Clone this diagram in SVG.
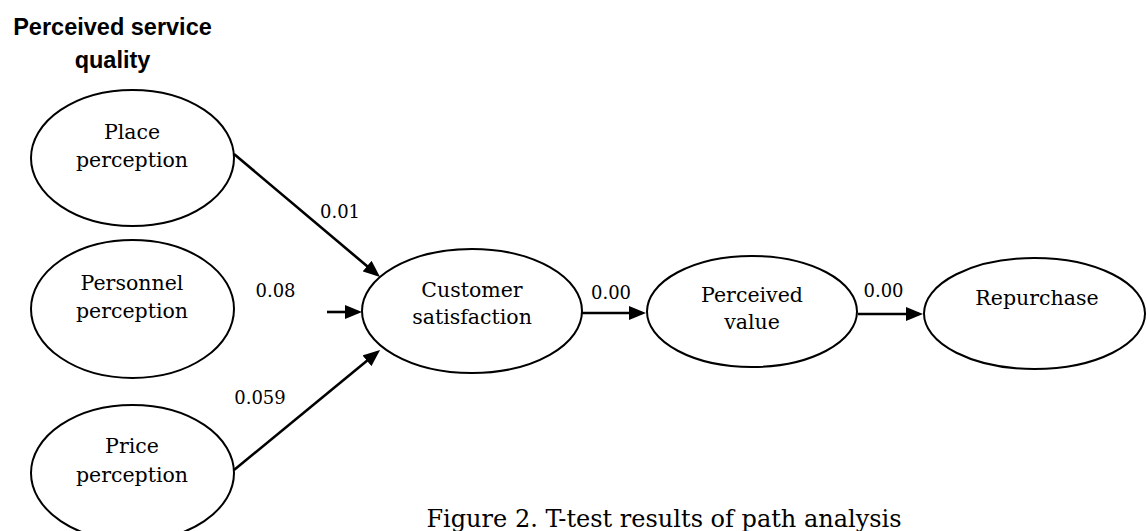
<svg xmlns="http://www.w3.org/2000/svg" width="1147" height="531" viewBox="0 0 1147 531">
<style>
.node ellipse{fill:#fff;stroke:#000;stroke-width:2}
.lbl{font-family:"DejaVu Serif","Liberation Serif",serif;font-size:20.5px;fill:#000;text-anchor:middle}
.num{font-family:"DejaVu Serif","Liberation Serif",serif;font-size:18px;fill:#000;text-anchor:middle}
.title{font-family:"Liberation Sans",Arial,sans-serif;font-weight:bold;font-size:23.5px;fill:#000;text-anchor:middle}
.cap{font-family:"DejaVu Serif","Liberation Serif",serif;font-size:24px;fill:#000;text-anchor:middle}
.conn line{stroke:#000;stroke-width:2.6;fill:none;marker-end:url(#arr)}
</style>
<defs>
<marker id="arr" viewBox="0 0 17 14" refX="13" refY="7" markerWidth="17" markerHeight="14" markerUnits="userSpaceOnUse" orient="auto">
<path d="M0,0 L17,7 L0,14 Z" fill="#000"/>
</marker>
</defs>
<rect width="1147" height="531" fill="#fff"/>
<g id="title">
<text class="title" x="112.5" y="35">Perceived service</text>
<text class="title" x="112.5" y="68">quality</text>
</g>
<g class="conn" id="connectors">
<line x1="234" y1="154" x2="377" y2="274.5"/>
<line x1="327" y1="312" x2="358" y2="312"/>
<line x1="234" y1="470" x2="377" y2="352.5"/>
<line x1="582" y1="313" x2="642" y2="313"/>
<line x1="858" y1="314" x2="919" y2="314"/>
</g>
<g id="edge-labels">
<text class="num" x="340" y="218">0.01</text>
<text class="num" x="275.5" y="297">0.08</text>
<text class="num" x="260" y="404">0.059</text>
<text class="num" x="611" y="299">0.00</text>
<text class="num" x="883.5" y="297">0.00</text>
</g>
<g class="node" id="place">
<ellipse cx="132.5" cy="158" rx="101.5" ry="68"/>
<text class="lbl" x="132" y="139">Place</text>
<text class="lbl" x="132" y="167">perception</text>
</g>
<g class="node" id="personnel">
<ellipse cx="132.5" cy="309" rx="101.5" ry="69"/>
<text class="lbl" x="132" y="290">Personnel</text>
<text class="lbl" x="132" y="318">perception</text>
</g>
<g class="node" id="price">
<ellipse cx="132.5" cy="473" rx="101.5" ry="68"/>
<text class="lbl" x="132" y="453">Price</text>
<text class="lbl" x="132" y="482">perception</text>
</g>
<g class="node" id="satisfaction">
<ellipse cx="472" cy="311" rx="110" ry="62"/>
<text class="lbl" x="472" y="297">Customer</text>
<text class="lbl" x="472" y="324">satisfaction</text>
</g>
<g class="node" id="value">
<ellipse cx="752" cy="311.5" rx="105" ry="55.5"/>
<text class="lbl" x="752" y="302">Perceived</text>
<text class="lbl" x="752" y="329">value</text>
</g>
<g class="node" id="repurchase">
<ellipse cx="1034.5" cy="313.5" rx="110.5" ry="55.5"/>
<text class="lbl" x="1037" y="305">Repurchase</text>
</g>
<g id="caption">
<text class="cap" x="664" y="527">Figure 2. T-test results of path analysis</text>
</g>
</svg>
